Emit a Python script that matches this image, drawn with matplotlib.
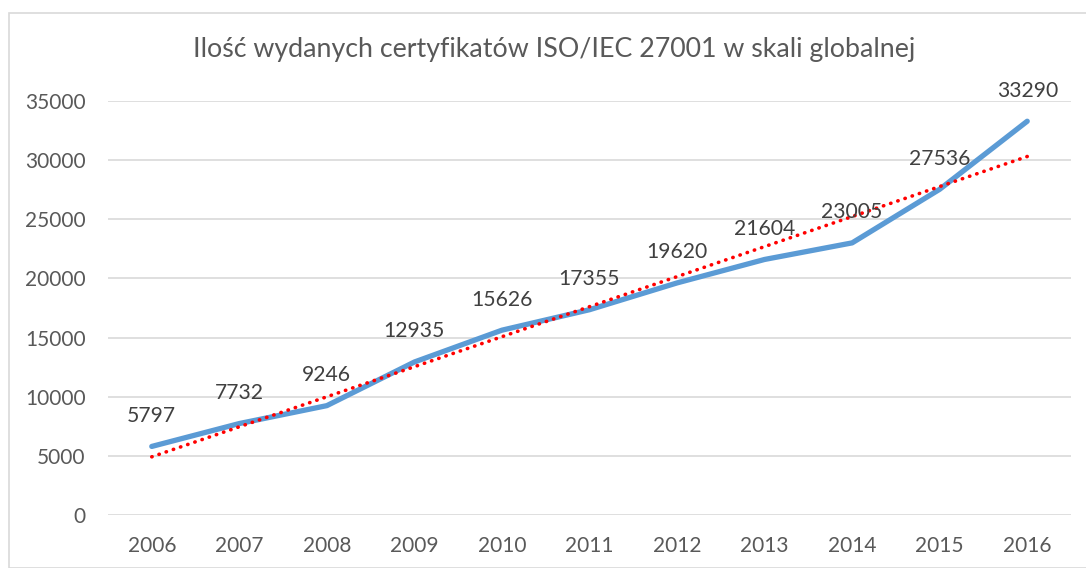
import matplotlib
matplotlib.use("Agg")
import matplotlib.pyplot as plt
import numpy as np
from matplotlib.patches import Rectangle

years = ["2006", "2007", "2008", "2009", "2010", "2011", "2012", "2013", "2014", "2015", "2016"]
certificates = [5797, 7732, 9246, 12935, 15626, 17355, 19620, 21604, 23005, 27536, 33290]
y_ticks = [0, 5000, 10000, 15000, 20000, 25000, 30000, 35000]
title = "Ilość wydanych certyfikatów ISO/IEC 27001 w skali globalnej"

plt.rcParams['font.family'] = ['Lato', 'DejaVu Sans']
text_color = "#595959"

fig = plt.figure(figsize=(10.86, 5.68), dpi=100)
# outer chart border
fig.patches.append(Rectangle((8.5 / 1086, 0), 1.1, (568 - 12.5) / 568,
                             transform=fig.transFigure, fill=False,
                             edgecolor="#D9D9D9", linewidth=1.2, zorder=0))

ax = fig.add_axes([108 / 1086, 53 / 568, (1071 - 108) / 1086, (515 - 101) / 568])
x = np.arange(len(years))

ax.plot(x, certificates, color="#5B9BD5", linewidth=3.8, solid_capstyle="round",
        solid_joinstyle="round", zorder=3)

coef = np.polyfit(x, certificates, 1)
trend = np.polyval(coef, x)
ax.plot(x, trend, color="#FF0000", linewidth=2.6, linestyle=(0, (0.1, 2.0)),
        dash_capstyle="round", zorder=4)

for xi, v in zip(x, certificates):
    ax.annotate(str(v), (xi, v), xytext=(0, 22), textcoords="offset points",
                ha="center", va="center", fontsize=15.2, color="#404040", zorder=5)

ax.set_xlim(-0.5, len(years) - 0.5)
ax.set_ylim(0, 35000)
ax.set_yticks(y_ticks)
ax.set_yticklabels([str(t) for t in y_ticks])
ax.set_xticks(x)
ax.set_xticklabels(years)
ax.tick_params(axis="both", length=0, labelsize=15, colors=text_color)
ax.tick_params(axis="y", pad=16)
ax.tick_params(axis="x", pad=15)
ax.grid(axis="y", color="#D9D9D9", linewidth=1.2)
ax.set_axisbelow(True)
for s in ax.spines.values():
    s.set_visible(False)

fig.text(554 / 1086, 1 - 50 / 568, title, ha="center", va="center",
         fontsize=19.3, color=text_color)

fig.savefig("out.png", dpi=100)
